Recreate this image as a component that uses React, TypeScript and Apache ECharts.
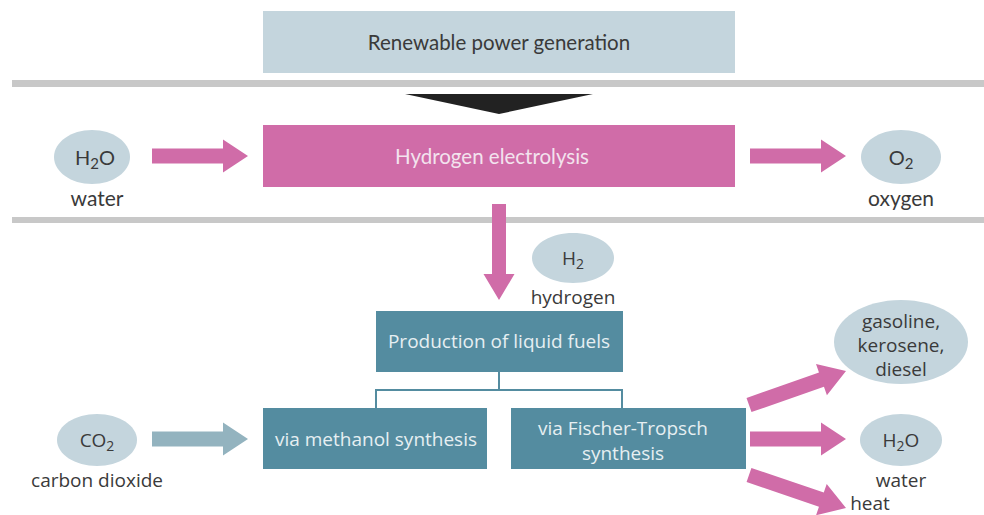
import React, { useEffect, useRef } from "react";
import * as echarts from "echarts";

// ---- diagram content ----
const topBoxLabel = "Renewable power generation";
const electrolysisLabel = "Hydrogen electrolysis";
const productionLabel = "Production of liquid fuels";
const routeLabels = ["via methanol synthesis", "via Fischer-Tropsch\nsynthesis"];
const inputFormulas = ["H{s|2}O", "CO{s|2}"];
const inputNames = ["water", "carbon dioxide"];
const outputFormulas = ["O{s|2}", "H{s|2}", "H{s|2}O"];
const outputNames = ["oxygen", "hydrogen", "water"];
const fuelLabel = "gasoline,\nkerosene,\ndiesel";
const heatLabel = "heat";

const COL = {
  light: "#c4d5dd",
  pink: "#d06ca8",
  teal: "#548ca0",
  tealLight: "#93b3bf",
  gray: "#c8c8c8",
  text: "#3a3a3a",
};

const F1 = "Lato, 'Open Sans', sans-serif";
const F2 = "'Open Sans', 'Noto Sans', sans-serif";

function arrow(x1: number, y1: number, x2: number, y2: number, bw: number, hw: number, hl: number, fill: string) {
  const dx = x2 - x1, dy = y2 - y1;
  const len = Math.hypot(dx, dy);
  const ux = dx / len, uy = dy / len;
  const nx = -uy, ny = ux;
  const bx = x2 - ux * hl, by = y2 - uy * hl;
  const b = bw / 2, h = hw / 2;
  const pts = [
    [x1 + nx * b, y1 + ny * b],
    [bx + nx * b, by + ny * b],
    [bx + nx * h, by + ny * h],
    [x2, y2],
    [bx - nx * h, by - ny * h],
    [bx - nx * b, by - ny * b],
    [x1 - nx * b, y1 - ny * b],
  ];
  return { type: "polygon", shape: { points: pts }, style: { fill }, silent: true };
}

function rect(x: number, y: number, w: number, h: number, fill: string) {
  return { type: "rect", shape: { x, y, width: w, height: h }, style: { fill }, silent: true };
}

function txt(x: number, y: number, text: string, fill: string, size: number, family: string, lh?: number) {
  const L = lh || Math.round(size * 1.3);
  return {
    type: "text",
    x,
    y,
    style: {
      text,
      fill,
      font: `${size}px ${family}`,
      fontSize: size,
      fontFamily: family,
      align: "center",
      verticalAlign: "middle",
      lineHeight: L,
      rich: {
        s: { fontSize: Math.round(size * 0.75), fontFamily: family, fill, verticalAlign: "bottom", lineHeight: L - 2 },
      },
    },
    silent: true,
  };
}

function ell(cx: number, cy: number, rx: number, ry: number) {
  return { type: "ellipse", shape: { cx, cy, rx, ry }, style: { fill: COL.light }, silent: true };
}

export default function App() {
  const ref = useRef<HTMLDivElement>(null);
  useEffect(() => {
    if (!ref.current) return;
    const chart = echarts.init(ref.current, undefined, { renderer: "svg" });
    const els: any[] = [];
    // top box
    els.push(rect(263, 11, 472, 62, COL.light));
    els.push(txt(499, 42, topBoxLabel, COL.text, 20.5, F1));
    // gray bars
    els.push(rect(12, 80, 972, 7, COL.gray));
    els.push(rect(12, 217, 972, 6, COL.gray));
    // black triangle
    els.push({ type: "polygon", shape: { points: [[405, 94], [593, 94], [499, 114]] }, style: { fill: "#222" }, silent: true });
    // electrolysis box
    els.push(rect(263, 125, 472, 62, COL.pink));
    els.push(txt(492, 156, electrolysisLabel, "#f3e3ee", 20.5, F1));
    // water input
    els.push(ell(92, 157, 38, 27));
    els.push(txt(95, 157, inputFormulas[0], COL.text, 20, F1));
    els.push(txt(97, 197, inputNames[0], COL.text, 21, F1));
    els.push(arrow(152, 156, 248, 156, 15, 33, 25, COL.pink));
    // oxygen output
    els.push(arrow(750, 156, 846, 156, 15, 33, 25, COL.pink));
    els.push(ell(901, 157, 40, 27));
    els.push(txt(901, 157, outputFormulas[0], COL.text, 20, F1));
    els.push(txt(901, 197, outputNames[0], COL.text, 21, F1));
    // hydrogen down arrow
    els.push(arrow(499, 204, 499, 300, 14, 31, 26, COL.pink));
    els.push(ell(573, 258, 41, 25));
    els.push(txt(573, 258, outputFormulas[1], COL.text, 19, F2));
    els.push(txt(573, 297, outputNames[1], COL.text, 19, F2));
    // production box
    els.push(rect(376, 311, 247, 61, COL.teal));
    els.push(txt(499, 341, productionLabel, "#e6eff2", 19, F2));
    // connectors
    const lineStyle = { stroke: COL.teal, lineWidth: 2 };
    els.push({ type: "line", shape: { x1: 499, y1: 372, x2: 499, y2: 390 }, style: lineStyle, silent: true });
    els.push({ type: "line", shape: { x1: 376, y1: 390, x2: 623, y2: 390 }, style: lineStyle, silent: true });
    els.push({ type: "line", shape: { x1: 376, y1: 389, x2: 376, y2: 408 }, style: lineStyle, silent: true });
    els.push({ type: "line", shape: { x1: 622, y1: 389, x2: 622, y2: 408 }, style: lineStyle, silent: true });
    // route boxes
    els.push(rect(263, 408, 224, 61, COL.teal));
    els.push(txt(376, 439, routeLabels[0], "#e6eff2", 19, F2));
    els.push(rect(511, 408, 235, 61, COL.teal));
    els.push(txt(623, 440, routeLabels[1], "#e6eff2", 19, F2, 25));
    // CO2 input
    els.push(ell(97, 440, 40, 26));
    els.push(txt(97, 440, inputFormulas[1], COL.text, 19, F2));
    els.push(txt(97, 480, inputNames[1], COL.text, 19, F2));
    els.push(arrow(152, 439, 248, 439, 15, 33, 25, COL.tealLight));
    // outputs
    els.push(arrow(749, 405, 846, 371, 15, 33, 26, COL.pink));
    els.push(arrow(750, 439, 846, 439, 15, 33, 25, COL.pink));
    els.push(arrow(749, 475, 846, 508, 15, 33, 26, COL.pink));
    els.push(ell(901, 342, 67, 42));
    els.push(txt(901, 345, fuelLabel, COL.text, 19, F2, 24));
    els.push(ell(901, 440, 41, 26));
    els.push(txt(901, 440, outputFormulas[2], COL.text, 19, F2));
    els.push(txt(901, 480, outputNames[2], COL.text, 19, F2));
    els.push(txt(870, 503, heatLabel, COL.text, 19, F2));

    chart.setOption({
      animation: false,
      backgroundColor: "#ffffff",
      graphic: { elements: els },
    });
    return () => chart.dispose();
  }, []);
  return <div ref={ref} style={{ position: "fixed", left: 0, top: 0, width: 984, height: 515 }} />;
}
